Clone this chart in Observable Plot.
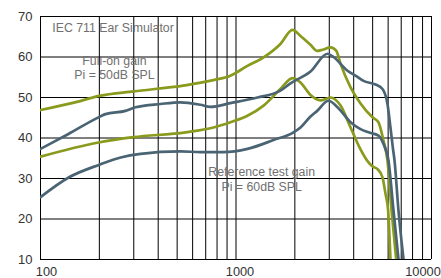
<!DOCTYPE html>
<html>
<head>
<meta charset="utf-8">
<script src="https://cdn.jsdelivr.net/npm/d3@7"></script>
<script src="https://cdn.jsdelivr.net/npm/@observablehq/plot@0.6"></script>
<style>
  html, body { margin: 0; padding: 0; background: #fff; }
  #chart { width: 441px; height: 278px; }
</style>
</head>
<body>
<div id="chart"></div>
<script>
// Frequency (Hz) and gain (dB) readings for each curve
const fullOnGreenFreq = [100, 150, 200, 300, 546, 767, 936, 1144, 1384, 1687, 1944, 2138, 2405, 2602, 2770, 3043, 3260, 3427, 3854, 4335, 4990, 5355, 5681, 5955, 6250, 6600];
const fullOnGreenDb   = [46.9, 48.8, 50.4, 51.5, 53.0, 54.3, 55.4, 57.8, 59.9, 63.2, 66.7, 65.2, 63.0, 61.5, 61.8, 62.4, 61.5, 58.3, 52.5, 48.5, 45.1, 43.9, 39.3, 34.4, 22, 10];

const fullOnBlueFreq = [100, 139, 198, 215, 272, 306, 411, 520, 658, 741, 936, 1288, 1687, 1900, 2405, 2938, 3153, 3717, 4083, 4490, 5171, 5614, 5955, 6166, 6340, 6470, 6780, 7194];
const fullOnBlueDb   = [37.3, 41.0, 45.1, 45.9, 46.7, 47.6, 48.4, 48.8, 48.2, 47.7, 48.6, 50.0, 51.7, 53.5, 56.4, 60.8, 60.0, 56.6, 55.4, 54.1, 53.2, 52.1, 48.4, 42.6, 37.7, 34.4, 22, 10];

const refGreenFreq = [100, 198, 299, 552, 767, 936, 1144, 1384, 1687, 1945, 2138, 2405, 2705, 3043, 3427, 3854, 4335, 4707, 4990, 5296, 5614, 5818, 6000, 6166];
const refGreenDb   = [35.4, 38.9, 40.2, 41.4, 42.6, 43.9, 45.5, 48.0, 52.1, 54.8, 53.7, 50.6, 49.3, 50.0, 48.0, 42.6, 37.2, 34.3, 33.0, 32.3, 30.3, 26.2, 22.1, 10];

const refBlueFreq = [100, 140, 200, 257, 325, 520, 658, 863, 1145, 1555, 1968, 2138, 2405, 2602, 2972, 3305, 3854, 4335, 4762, 5355, 5681, 6026, 6394, 6780];
const refBlueDb   = [25.4, 30.3, 33.4, 35.2, 36.1, 36.7, 36.5, 36.5, 37.3, 39.5, 41.4, 42.6, 45.3, 46.7, 49.2, 47.6, 43.9, 42.2, 41.4, 40.6, 38.5, 34.4, 22, 10];

const xGridTicks = [100,200,300,400,500,600,700,800,900,1000,2000,3000,4000,5000,6000,7000,8000,9000,10000];
const yTicks = [10, 20, 30, 40, 50, 60, 70];
const xLabelTicks = [100, 1000, 10000];

const notes = [
  {text: "IEC 711 Ear Simulator", f: 115, db: 67.2, anchor: "start"},
  {text: "Full-on gain", f: 239, db: 59.1, anchor: "middle"},
  {text: "Pi = 50dB SPL", f: 239, db: 55.6, anchor: "middle"},
  {text: "Reference test gain", f: 1353, db: 31.7, anchor: "middle"},
  {text: "Pi = 60dB SPL", f: 1353, db: 28.0, anchor: "middle"}
];

const toRows = (fs, ds) => fs.map((f, i) => ({f, db: ds[i]}));
const GREEN = "#8a9a1d";
const BLUE = "#4b6474";
const GRID = "#000";
const labelDx = {100: 6, 1000: 4, 10000: -8.5};

const chart = Plot.plot({
  width: 441,
  height: 278,
  marginLeft: 40,
  marginRight: 10,
  marginTop: 16,
  marginBottom: 19,
  style: {fontFamily: "Liberation Sans, Arial, sans-serif", background: "#fff"},
  x: {type: "log", domain: [100, 10000]},
  y: {domain: [10, 70]},
  marks: [
    Plot.ruleX(xGridTicks, {x: d => d, stroke: GRID, strokeWidth: 1}),
    Plot.ruleY(yTicks, {y: d => d, stroke: GRID, strokeWidth: 1}),
    Plot.line(toRows(fullOnGreenFreq, fullOnGreenDb), {x: "f", y: "db", stroke: GREEN, strokeWidth: 2.7, curve: "monotone-x", clip: true}),
    Plot.line(toRows(refGreenFreq, refGreenDb), {x: "f", y: "db", stroke: GREEN, strokeWidth: 2.7, curve: "monotone-x", clip: true}),
    Plot.line(toRows(fullOnBlueFreq, fullOnBlueDb), {x: "f", y: "db", stroke: BLUE, strokeWidth: 2.7, curve: "monotone-x", clip: true}),
    Plot.line(toRows(refBlueFreq, refBlueDb), {x: "f", y: "db", stroke: BLUE, strokeWidth: 2.7, curve: "monotone-x", clip: true}),
    Plot.text(notes.filter(d => d.anchor === "start"), {x: "f", y: "db", text: "text", textAnchor: "start", fill: "#707070", fontSize: 12.3}),
    Plot.text(notes.filter(d => d.anchor === "middle"), {x: "f", y: "db", text: "text", textAnchor: "middle", fill: "#707070", fontSize: 12.3}),
    Plot.axisY(yTicks, {tickSize: 0, tickPadding: 8, fontSize: 13, fill: "#333", label: null}),
    ...xLabelTicks.map(t => Plot.axisX([t], {tickSize: 0, tickPadding: 7.5, fontSize: 12.8, fill: "#333", label: null, dx: labelDx[t], tickFormat: d => String(d)}))
  ]
});
document.getElementById("chart").appendChild(chart);
</script>
</body>
</html>
